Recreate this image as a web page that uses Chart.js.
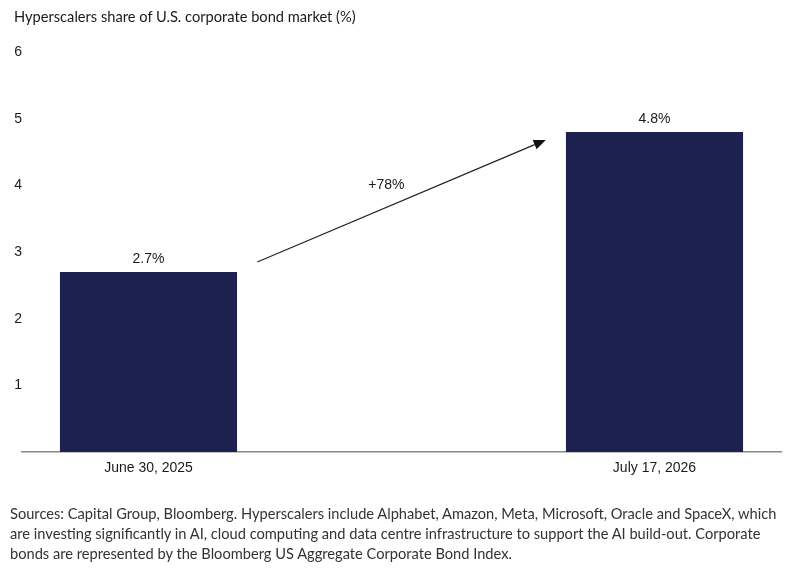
<!DOCTYPE html>
<html>
<head>
<meta charset="utf-8">
<script src="https://cdn.jsdelivr.net/npm/chart.js@4"></script>
<style>
  body { margin: 0; background: #fff; }
  #wrap { position: relative; width: 796px; height: 577px; }
  #title { position: absolute; left: 14px; top: 8px; font: 14.65px "Lato", sans-serif; color: #1a1a1a; white-space: nowrap; }
  #note { position: absolute; left: 10px; top: 504px; font: 14.65px/20px "Lato", sans-serif; color: #333; white-space: nowrap; }
  canvas { position: absolute; left: 0; top: 0; }
</style>
</head>
<body>
<div id="wrap">
  <canvas id="chart" width="796" height="577"></canvas>
  <div id="title">Hyperscalers share of U.S. corporate bond market (%)</div>
  <div id="note">Sources: Capital Group, Bloomberg. Hyperscalers include Alphabet, Amazon, Meta, Microsoft, Oracle and SpaceX, which<br>are investing significantly in AI, cloud computing and data centre infrastructure to support the AI build-out. Corporate<br>bonds are represented by the Bloomberg US Aggregate Corporate Bond Index.</div>
</div>
<script>
// middle slot is empty so bars sit at 1/6 and 5/6 of the width
const categories = ["June 30, 2025", "", "July 17, 2026"];
const shares = [2.7, null, 4.8];
const barLabels = ["2.7%", "", "4.8%"];
const yTicks = [0, 1, 2, 3, 4, 5, 6];

// arrow from / to, in data units (category index, value)
const arrowFrom = [0.43, 2.85];
const arrowTo = [1.57, 4.68];
const arrowText = "+78%";
const arrowTextAt = [0.94, 4.0];

const barColor = "#1d2150";
const labelFont = "'Liberation Sans', Arial, sans-serif";

const extras = {
    id: "extras",
    afterDatasetsDraw(chart) {
        const { ctx, scales: { x, y } } = chart;
        const meta = chart.getDatasetMeta(0);
        ctx.save();
        ctx.font = "14px " + labelFont;
        ctx.fillStyle = "#1a1a1a";
        ctx.textAlign = "center";
        ctx.textBaseline = "middle";
        meta.data.forEach((bar, i) => {
            if (shares[i] == null) return;
            ctx.fillText(barLabels[i], bar.x, bar.y - 13);
        });

        const x1 = x.getPixelForValue(arrowFrom[0]), y1 = y.getPixelForValue(arrowFrom[1]);
        const x2 = x.getPixelForValue(arrowTo[0]), y2 = y.getPixelForValue(arrowTo[1]);
        const ang = Math.atan2(y2 - y1, x2 - x1);
        const head = 12, half = 5;
        ctx.strokeStyle = "#222";
        ctx.lineWidth = 1.2;
        ctx.beginPath();
        ctx.moveTo(x1, y1);
        ctx.lineTo(x2 - head * Math.cos(ang), y2 - head * Math.sin(ang));
        ctx.stroke();
        ctx.beginPath();
        ctx.moveTo(x2, y2);
        ctx.lineTo(x2 - head * Math.cos(ang) + half * Math.sin(ang), y2 - head * Math.sin(ang) - half * Math.cos(ang));
        ctx.lineTo(x2 - head * Math.cos(ang) - half * Math.sin(ang), y2 - head * Math.sin(ang) + half * Math.cos(ang));
        ctx.closePath();
        ctx.fillStyle = "#111";
        ctx.fill();

        ctx.fillStyle = "#1a1a1a";
        ctx.fillText(arrowText, x.getPixelForValue(arrowTextAt[0]), y.getPixelForValue(arrowTextAt[1]));
        ctx.restore();
    }
};

new Chart(document.getElementById("chart"), {
    type: "bar",
    data: {
        labels: categories,
        datasets: [{
            data: shares,
            backgroundColor: barColor,
            borderWidth: 0,
            categoryPercentage: 1,
            barPercentage: 0.7
        }]
    },
    options: {
        responsive: false,
        animation: false,
        devicePixelRatio: 1,
        layout: { padding: { top: 52, right: 15, bottom: 95, left: 0 } },
        plugins: { legend: { display: false }, tooltip: { enabled: false } },
        scales: {
            x: {
                grid: { display: false, drawTicks: false },
                border: { display: true, color: "#888", width: 1.5 },
                ticks: { color: "#1a1a1a", padding: 8, font: { family: labelFont, size: 14 } },
                afterFit(s) { s.height = 30; }
            },
            y: {
                min: yTicks[0],
                max: yTicks[yTicks.length - 1],
                afterBuildTicks(s) { s.ticks = yTicks.map(v => ({ value: v })); },
                grid: { display: false, drawTicks: false },
                border: { display: false },
                ticks: {
                    color: "#1a1a1a",
                    padding: 0,
                    font: { family: labelFont, size: 14 },
                    callback: v => (v === 0 ? "" : v)
                },
                afterFit(s) { s.width = 22; }
            }
        }
    },
    plugins: [extras]
});
</script>
</body>
</html>
